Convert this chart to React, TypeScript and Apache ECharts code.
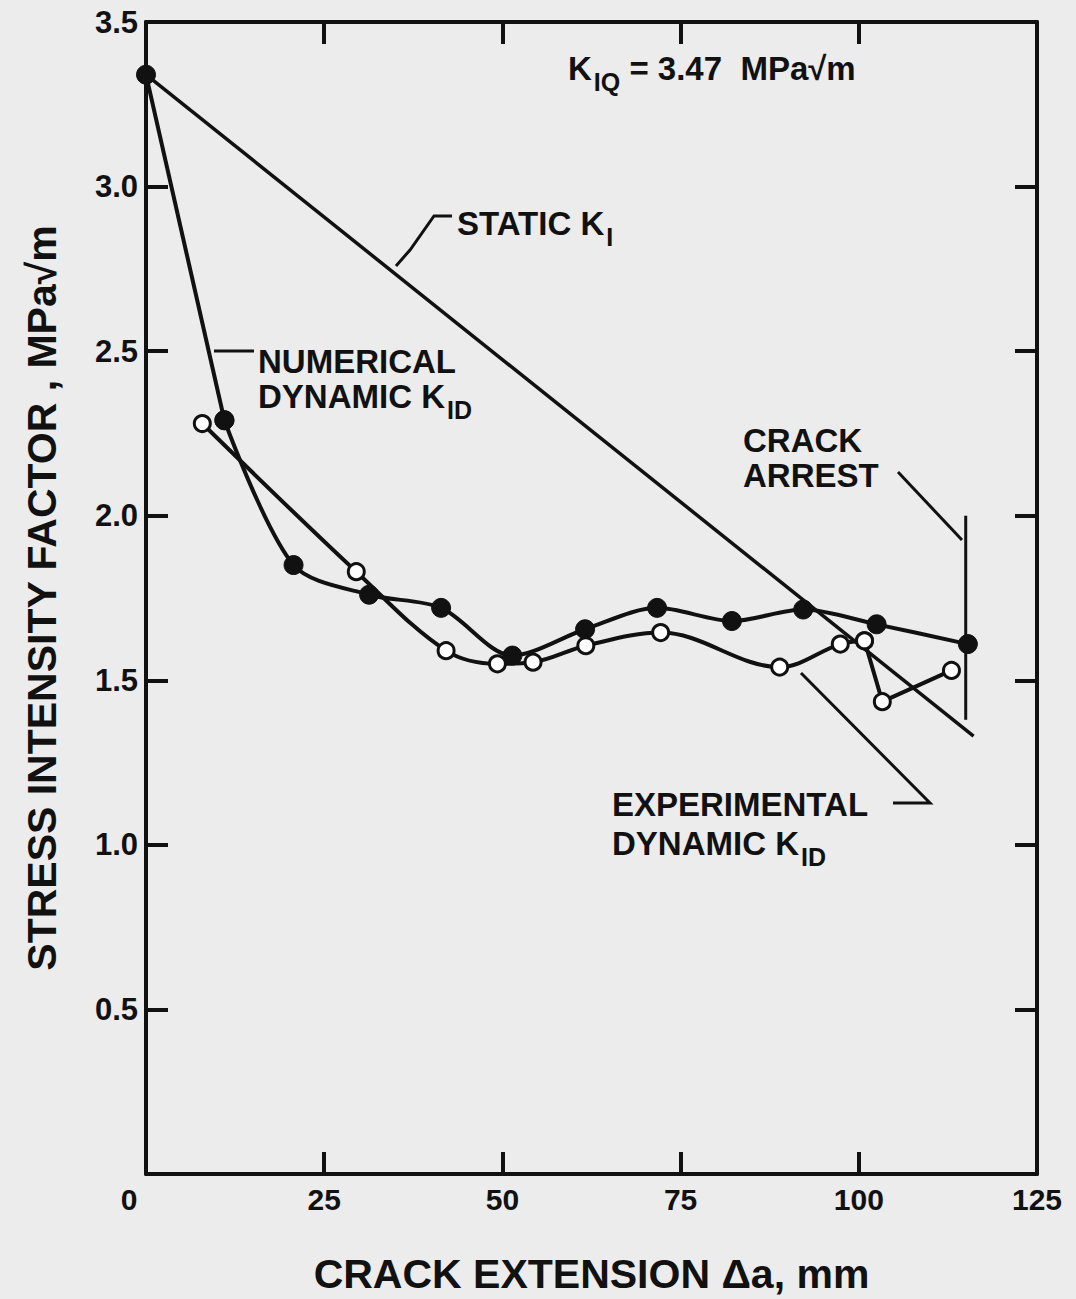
import React, { useEffect, useRef } from 'react';
import * as echarts from 'echarts';

// ---- Data ----
const numericalX = [0, 11, 20.7, 31.3, 41.4, 51.4, 61.6, 71.7, 82.2, 92.2, 102.5, 115.3];
const numericalK = [3.34, 2.29, 1.85, 1.76, 1.72, 1.575, 1.655, 1.72, 1.68, 1.715, 1.67, 1.61];
const experimentalX = [7.9, 29.5, 42.1, 49.3, 54.3, 61.7, 72.2, 88.9, 97.4, 100.8];
const experimentalK = [2.28, 1.83, 1.59, 1.55, 1.555, 1.605, 1.645, 1.54, 1.61, 1.62];
const experimentalTailX = [100.8, 103.3, 113.0];
const experimentalTailK = [1.62, 1.435, 1.53];
const staticX = [0, 116.1];
const staticK = [3.34, 1.33];
const arrestX = [115, 115];
const arrestK = [2.0, 1.38];

const xTickValues = [0, 25, 50, 75, 100, 125];
const yTickValues = [0, 0.5, 1.0, 1.5, 2.0, 2.5, 3.0, 3.5];

const FONT = "'Liberation Sans', 'DejaVu Sans', sans-serif";
const INK = '#111111';
const BG = '#ececec';
const LABEL_SIZE = 33;

const zip = (xs: number[], ys: number[]) => xs.map((x, i) => [x, ys[i]]);

const makeRich = (lh: number) => ({
  m: { fontSize: LABEL_SIZE, fontWeight: 'bold', lineHeight: lh, verticalAlign: 'top', fontFamily: FONT, color: INK },
  s: { fontSize: 25, fontWeight: 'bold', lineHeight: 20, verticalAlign: 'top', padding: [17, 0, 0, 2], fontFamily: FONT, color: INK },
});

// x = left edge, top = top of the text box
const label = (x: number, top: number, text: string, lh = 31) => ({
  type: 'text',
  x,
  y: top,
  style: {
    text,
    fontFamily: FONT,
    fontSize: LABEL_SIZE,
    fontWeight: 'bold',
    fill: INK,
    verticalAlign: 'top',
    align: 'left',
    rich: makeRich(lh),
  },
});

export default function App() {
  const ref = useRef<HTMLDivElement>(null);
  useEffect(() => {
    document.body.style.margin = '0';
    if (!ref.current) return;
    const chart = echarts.init(ref.current, undefined, { renderer: 'svg' });
    const axisLine = { show: true, onZero: false, lineStyle: { color: INK, width: 4 } };
    const tick = { show: true, inside: true, length: 22, lineStyle: { color: INK, width: 4 } };
    const numerical = zip(numericalX, numericalK);
    const filledSymbol = {
      symbol: 'circle',
      symbolSize: 19,
      itemStyle: { color: INK, borderColor: INK, borderWidth: 1, opacity: 1 },
    };
    const openSymbol = {
      symbol: 'circle',
      symbolSize: 16,
      itemStyle: { color: '#ffffff', borderColor: INK, borderWidth: 3, opacity: 1 },
    };
    chart.setOption({
      animation: false,
      backgroundColor: BG,
      grid: { left: 146, right: 39, top: 22, bottom: 120, show: false },
      xAxis: [
        {
          type: 'value',
          position: 'bottom',
          min: xTickValues[0],
          max: xTickValues[xTickValues.length - 1],
          interval: 25,
          axisLine,
          axisTick: tick,
          splitLine: { show: false },
          axisLabel: {
            color: INK,
            fontFamily: FONT,
            fontWeight: 'bold',
            fontSize: 30,
            margin: 10,
            formatter: (v: number) => (v === 0 ? '{z|0}' : String(v)),
            rich: { z: { fontSize: 30, fontWeight: 'bold', fontFamily: FONT, color: INK, padding: [0, 34, 0, 0] } },
          },
          name: 'CRACK EXTENSION Δa, mm',
          nameLocation: 'middle',
          nameGap: 79,
          nameTextStyle: { color: INK, fontFamily: FONT, fontWeight: 'bold', fontSize: 41 },
        },
        {
          type: 'value',
          position: 'top',
          min: 0,
          max: 125,
          interval: 25,
          axisLine,
          axisTick: tick,
          axisLabel: { show: false },
          splitLine: { show: false },
        },
      ],
      yAxis: [
        {
          type: 'value',
          position: 'left',
          min: yTickValues[0],
          max: yTickValues[yTickValues.length - 1],
          interval: 0.5,
          axisLine,
          axisTick: tick,
          splitLine: { show: false },
          axisLabel: {
            color: INK,
            fontFamily: FONT,
            fontWeight: 'bold',
            fontSize: 31,
            margin: 8,
            showMinLabel: false,
            formatter: (v: number) => v.toFixed(1),
          },
          name: 'STRESS INTENSITY FACTOR , MPa√m',
          nameLocation: 'middle',
          nameGap: 84,
          nameTextStyle: { color: INK, fontFamily: FONT, fontWeight: 'bold', fontSize: 41 },
        },
        {
          type: 'value',
          position: 'right',
          min: 0,
          max: 3.5,
          interval: 0.5,
          axisLine,
          axisTick: tick,
          axisLabel: { show: false },
          splitLine: { show: false },
        },
      ],
      series: [
        {
          name: 'Static K_I',
          type: 'line',
          data: zip(staticX, staticK),
          symbol: 'none',
          lineStyle: { color: INK, width: 3.5 },
          z: 3,
        },
        {
          name: 'Crack arrest',
          type: 'line',
          data: zip(arrestX, arrestK),
          symbol: 'none',
          lineStyle: { color: INK, width: 3 },
          z: 3,
        },
        {
          name: 'Numerical dynamic K_ID (initial drop)',
          type: 'line',
          data: numerical.slice(0, 2),
          ...filledSymbol,
          lineStyle: { color: INK, width: 4 },
          z: 5,
        },
        {
          name: 'Numerical dynamic K_ID',
          type: 'line',
          data: numerical.slice(1),
          smooth: 0.3,
          ...filledSymbol,
          lineStyle: { color: INK, width: 4 },
          z: 5,
        },
        {
          name: 'Experimental dynamic K_ID',
          type: 'line',
          data: zip(experimentalX, experimentalK),
          smooth: 0.35,
          ...openSymbol,
          lineStyle: { color: INK, width: 4 },
          z: 6,
        },
        {
          name: 'Experimental dynamic K_ID (tail)',
          type: 'line',
          data: zip(experimentalTailX, experimentalTailK),
          ...openSymbol,
          lineStyle: { color: INK, width: 4 },
          z: 6,
        },
      ],
      graphic: [
        label(568, 52, '{m|K}{s|IQ}{m| = 3.47  MPa√m}'),
        label(457, 207, '{m|STATIC K}{s|I}'),
        label(258, 345, '{m|NUMERICAL}'),
        label(258, 380, '{m|DYNAMIC K}{s|ID}'),
        label(743, 424, '{m|CRACK}'),
        label(743, 459, '{m|ARREST}'),
        label(612, 788, '{m|EXPERIMENTAL}'),
        label(612, 827, '{m|DYNAMIC K}{s|ID}'),
        {
          type: 'polyline',
          shape: { points: [[452, 216], [434, 216], [410, 250], [396, 266]] },
          style: { stroke: INK, lineWidth: 3, fill: 'none' },
        },
        {
          type: 'line',
          shape: { x1: 214, y1: 351, x2: 254, y2: 351 },
          style: { stroke: INK, lineWidth: 3 },
        },
        {
          type: 'line',
          shape: { x1: 898, y1: 472, x2: 962, y2: 540 },
          style: { stroke: INK, lineWidth: 3 },
        },
        {
          type: 'polyline',
          shape: { points: [[801, 673], [930, 803], [893, 803]] },
          style: { stroke: INK, lineWidth: 3, fill: 'none' },
        },
      ],
    });
    return () => chart.dispose();
  }, []);
  return <div ref={ref} style={{ width: 1076, height: 1299 }} />;
}
